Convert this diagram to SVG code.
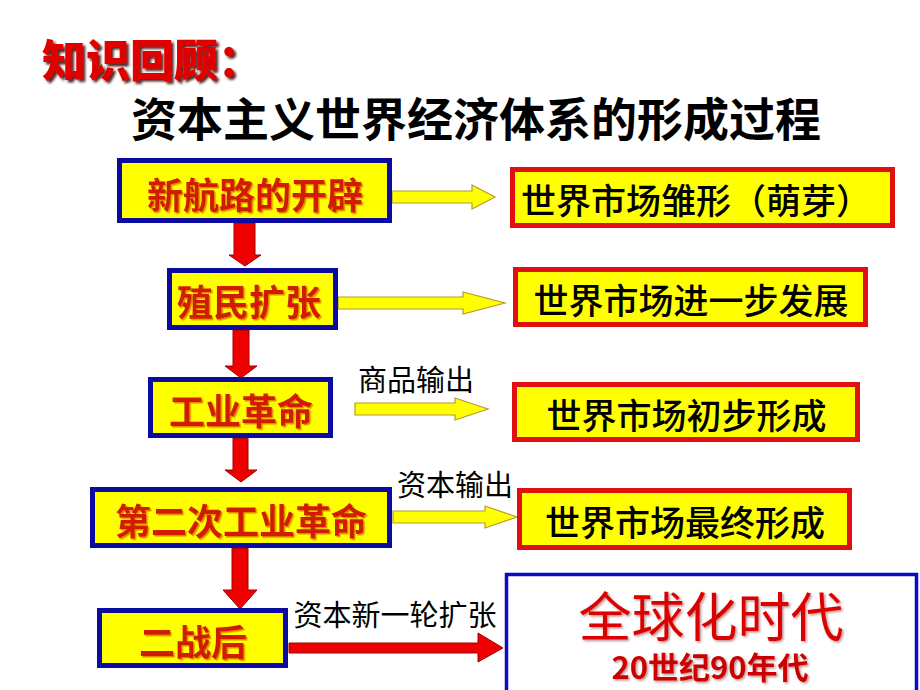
<svg xmlns="http://www.w3.org/2000/svg" width="920" height="690" viewBox="0 0 920 690">
<defs>
<filter id="sh1" x="-10%" y="-20%" width="130%" height="150%"><feDropShadow dx="2.5" dy="2.5" stdDeviation="1" flood-color="#3a0000" flood-opacity="0.85"/></filter>
<filter id="sh2" x="-10%" y="-20%" width="130%" height="150%"><feDropShadow dx="1.5" dy="1.5" stdDeviation="0.6" flood-color="#e07a00" flood-opacity="0.9"/></filter>
<filter id="sh3" x="-10%" y="-20%" width="130%" height="150%"><feDropShadow dx="1.5" dy="1.5" stdDeviation="0.8" flood-color="#904040" flood-opacity="0.6"/></filter>
</defs>
<style>
.cjk{font-family:"Noto Sans CJK SC","Liberation Sans",sans-serif}
.lbox{fill:#ffff00;stroke:#0b0ba0;stroke-width:5}
.rbox{fill:#ffff00;stroke:#e01010;stroke-width:5}
.ltxt{fill:#d01e00;font-size:36px;font-weight:700;text-anchor:middle;dominant-baseline:central}
.rtxt{fill:#000;font-size:35px;font-weight:500;text-anchor:middle;dominant-baseline:central}
.lab{fill:#000;font-size:29px;font-weight:400;text-anchor:middle;dominant-baseline:central}
.ya{fill:#ffff00;stroke:#b89a30;stroke-width:1.2;stroke-linejoin:miter}
.ra{fill:#ee0000;stroke:#a00000;stroke-width:1}
</style>
<rect width="920" height="690" fill="#ffffff"/>
<g id="title">
<text class="cjk" x="42" y="58" font-size="44" font-weight="900" fill="#e00000" dominant-baseline="central" filter="url(#sh1)">知识回顾：</text>
<text class="cjk" x="476" y="116" font-size="46" font-weight="700" fill="#000" text-anchor="middle" dominant-baseline="central">资本主义世界经济体系的形成过程</text>
</g>
<g id="connectors">
<polygon class="ya" points="392,191 472,191 472,185 495,197 472,209 472,203 392,203"/>
<polygon class="ya" points="338,297 463,297 463,292 505,303 463,314 463,309 338,309"/>
<polygon class="ya" points="355,403 455,403 455,398 488,409 455,420 455,415 355,415"/>
<polygon class="ya" points="393,511 485,511 485,506 517,517 485,528 485,523 393,523"/>
<polygon class="ra" points="234,223 255,223 255,255 261,255 245,266 229,255 234,255"/>
<polygon class="ra" points="233,330 249,330 249,366 257,366 241,378 225,366 233,366"/>
<polygon class="ra" points="233,438 248,438 248,470 257,470 241,482 225,470 233,470"/>
<polygon class="ra" points="232,548 248,548 248,590 257,590 240,609 223,590 232,590"/>
<polygon class="ra" points="289,643 478,643 478,633 503,648 478,662 478,653 289,653"/>
<text class="cjk lab" x="416" y="378">商品输出</text>
<text class="cjk lab" x="455" y="483">资本输出</text>
<text class="cjk lab" x="395" y="613" font-size="30">资本新一轮扩张</text>
</g>
<g id="n1"><rect class="lbox" x="119.5" y="160.5" width="270" height="60"/><text class="cjk ltxt" x="255" y="193" filter="url(#sh2)">新航路的开辟</text></g>
<g id="n2"><rect class="lbox" x="169.5" y="270.5" width="166" height="57"/><text class="cjk ltxt" x="249" y="300" filter="url(#sh2)">殖民扩张</text></g>
<g id="n3"><rect class="lbox" x="150.5" y="379.5" width="180" height="56"/><text class="cjk ltxt" x="241" y="409" filter="url(#sh2)">工业革命</text></g>
<g id="n4"><rect class="lbox" x="92.5" y="489.5" width="297" height="56"/><text class="cjk ltxt" x="241" y="519" filter="url(#sh2)">第二次工业革命</text></g>
<g id="n5"><rect class="lbox" x="99.5" y="610.5" width="186" height="55"/><text class="cjk ltxt" x="193" y="640" filter="url(#sh2)">二战后</text></g>
<g id="r1"><rect class="rbox" x="512.5" y="169.5" width="380" height="56"/><text class="cjk rtxt" x="696" y="198" font-size="34">世界市场雏形（萌芽）</text></g>
<g id="r2"><rect class="rbox" x="515.5" y="269.5" width="350" height="55"/><text class="cjk rtxt" x="691" y="298">世界市场进一步发展</text></g>
<g id="r3"><rect class="rbox" x="514.5" y="384.5" width="343" height="55"/><text class="cjk rtxt" x="686.5" y="413">世界市场初步形成</text></g>
<g id="r4"><rect class="rbox" x="519.5" y="490.5" width="330" height="57"/><text class="cjk rtxt" x="685" y="520">世界市场最终形成</text></g>
<g id="r5"><rect x="506.5" y="574.5" width="410" height="130" fill="#ffffff" stroke="#0b0bc0" stroke-width="3.5"/>
<text class="cjk" text-anchor="middle" dominant-baseline="central" filter="url(#sh3)"><tspan x="711" y="614" font-size="53" font-weight="400" fill="#dd0000">全球化时代</tspan><tspan x="710" y="665" font-size="31" font-weight="700" fill="#cc0000">20世纪90年代</tspan></text></g>
</svg>
